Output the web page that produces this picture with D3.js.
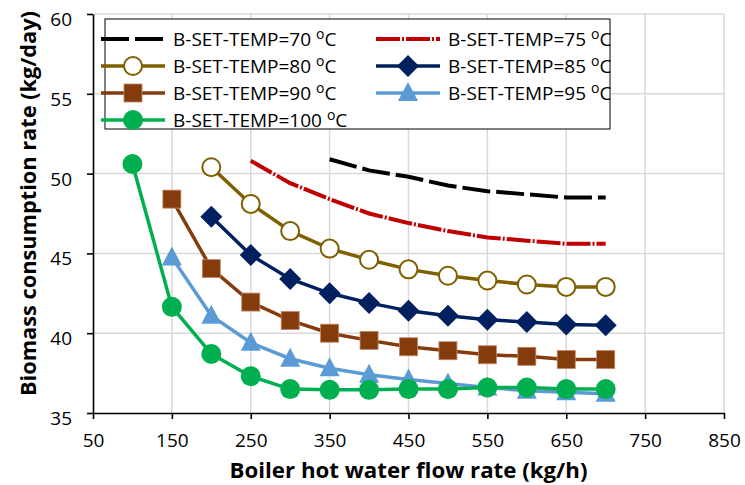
<!DOCTYPE html>
<html>
<head>
<meta charset="utf-8">
<script src="https://cdn.jsdelivr.net/npm/d3@7"></script>
<style>
  body { margin: 0; background: #fff; }
  svg { font-family: "Open Sans", Carlito, Calibri, sans-serif; }
</style>
</head>
<body>
<div id="chart"></div>
<script>
const MARGIN = { top: 14, right: 21, bottom: 72, left: 93 };
const WIDTH = 745 - MARGIN.left - MARGIN.right;
const HEIGHT = 485 - MARGIN.top - MARGIN.bottom;

// flow rates (kg/h)
const flowAll = [100, 150, 200, 250, 300, 350, 400, 450, 500, 550, 600, 650, 700];

// biomass consumption (kg/day) per boiler set temperature
const temp70 = [null, null, null, null, null, 50.9, 50.2, 49.8, 49.25, 48.9, 48.7, 48.5, 48.5];
const temp75 = [null, null, null, 50.8, 49.4, 48.4, 47.5, 46.9, 46.4, 46.0, 45.8, 45.6, 45.6];
const temp80 = [null, null, 50.4, 48.1, 46.4, 45.3, 44.6, 44.0, 43.6, 43.3, 43.05, 42.9, 42.9];
const temp85 = [null, null, 47.3, 44.9, 43.4, 42.5, 41.9, 41.4, 41.1, 40.85, 40.7, 40.55, 40.5];
const temp90 = [null, 48.4, 44.05, 41.95, 40.8, 40.0, 39.55, 39.15, 38.9, 38.65, 38.55, 38.35, 38.35];
const temp95 = [null, 44.75, 41.1, 39.4, 38.4, 37.8, 37.4, 37.1, 36.85, 36.6, 36.4, 36.3, 36.2];
const temp100 = [50.6, 41.65, 38.7, 37.3, 36.5, 36.45, 36.45, 36.5, 36.5, 36.6, 36.6, 36.5, 36.5];

const xTicks = [50, 150, 250, 350, 450, 550, 650, 750, 850];
const yTicks = [35, 40, 45, 50, 55, 60];

const series = [
  { name: '70', values: temp70, color: '#000000', dash: '28,6', marker: null },
  { name: '75', values: temp75, color: '#c00000', dash: '24,2,2,2', marker: null },
  { name: '80', values: temp80, color: '#7f6000', dash: null, marker: 'open' },
  { name: '85', values: temp85, color: '#002060', dash: null, marker: 'diamond' },
  { name: '90', values: temp90, color: '#843c0c', dash: null, marker: 'square' },
  { name: '95', values: temp95, color: '#5b9bd5', dash: null, marker: 'triangle' },
  { name: '100', values: temp100, color: '#00b050', dash: null, marker: 'circle' }
];

const svg = d3.select('#chart').append('svg')
  .attr('width', 745)
  .attr('height', 485);

const g = svg.append('g')
  .attr('transform', `translate(${MARGIN.left},${MARGIN.top})`);

const x = d3.scaleLinear().domain([50, 850]).range([0, WIDTH]);
const y = d3.scaleLinear().domain([35, 60]).range([HEIGHT, 0]);

// gridlines
g.append('g').selectAll('line')
  .data(xTicks.slice(1))
  .join('line')
    .attr('x1', d => x(d)).attr('x2', d => x(d))
    .attr('y1', 0).attr('y2', HEIGHT)
    .attr('stroke', '#d9d9d9').attr('stroke-width', 1.5);
g.append('g').selectAll('line')
  .data(yTicks.slice(1))
  .join('line')
    .attr('x1', 0).attr('x2', WIDTH)
    .attr('y1', d => y(d)).attr('y2', d => y(d))
    .attr('stroke', '#d9d9d9').attr('stroke-width', 1.5);

// axes
const xAxis = g.append('g')
  .attr('transform', `translate(0,${HEIGHT})`)
  .call(d3.axisBottom(x).tickValues(xTicks).tickSize(6).tickPadding(15).tickSizeOuter(0));
const yAxis = g.append('g')
  .call(d3.axisLeft(y).tickValues(yTicks).tickSize(6).tickPadding(15).tickSizeOuter(0));

[xAxis, yAxis].forEach(a => {
  a.select('.domain').attr('stroke', '#000').attr('stroke-width', 1.6);
  a.selectAll('.tick line').attr('stroke', '#000').attr('stroke-width', 1.6);
  a.selectAll('.tick text')
    .attr('fill', '#000')
    .style('font-size', '19px')
    .style('font-family', '"Open Sans", Carlito, Calibri, sans-serif');
});
yAxis.selectAll('.tick text').attr('dy', '0.6em');

// series lines
const line = d3.line()
  .defined(d => d[1] != null)
  .x(d => x(d[0]))
  .y(d => y(d[1]));

function drawMarker(sel, kind, color) {
  if (kind === 'circle') {
    sel.append('circle').attr('r', 10).attr('fill', color);
  } else if (kind === 'open') {
    sel.append('circle').attr('r', 9).attr('fill', '#fff')
      .attr('stroke', color).attr('stroke-width', 2);
  } else if (kind === 'square') {
    sel.append('rect').attr('x', -9).attr('y', -9).attr('width', 18).attr('height', 18)
      .attr('fill', color).attr('stroke', '#c0866a').attr('stroke-width', 0.8);
  } else if (kind === 'diamond') {
    sel.append('path').attr('d', 'M0,-11L11,0L0,11L-11,0Z').attr('fill', color);
  } else if (kind === 'triangle') {
    sel.append('path').attr('d', 'M0,-11L10,8L-10,8Z').attr('fill', color);
  }
}

series.forEach(s => {
  const pts = flowAll.map((f, i) => [f, s.values[i]]);
  g.append('path')
    .datum(pts)
    .attr('fill', 'none')
    .attr('stroke', s.color)
    .attr('stroke-width', s.marker ? 3.5 : 4)
    .attr('stroke-dasharray', s.dash)
    .attr('d', line);
  if (s.marker) {
    pts.filter(p => p[1] != null).forEach(p => {
      const m = g.append('g').attr('transform', `translate(${x(p[0])},${y(p[1])})`);
      drawMarker(m, s.marker, s.color);
    });
  }
});

// legend
const legend = svg.append('g');
legend.append('rect')
  .attr('x', 105).attr('y', 19).attr('width', 505).attr('height', 110)
  .attr('fill', '#fff').attr('stroke', '#000').attr('stroke-width', 1);

const legendPos = [
  [101, 39], [376, 39],
  [101, 66], [376, 66],
  [101, 93], [376, 93],
  [101, 120]
];

series.forEach((s, i) => {
  const [lx, ly] = legendPos[i];
  const item = legend.append('g').attr('transform', `translate(${lx},${ly})`);
  item.append('line')
    .attr('x1', 0).attr('x2', 64).attr('y1', 0).attr('y2', 0)
    .attr('stroke', s.color)
    .attr('stroke-width', s.marker ? 3.5 : 4)
    .attr('stroke-dasharray', s.dash);
  if (s.marker) {
    const m = item.append('g').attr('transform', 'translate(32,0)');
    drawMarker(m, s.marker, s.color);
  }
  const t = item.append('text')
    .attr('x', 72).attr('y', 7)
    .style('font-size', '19px')
    .attr('fill', '#000');
  t.append('tspan').text(`B-SET-TEMP=${s.name} `);
  t.append('tspan').attr('dy', -7).style('font-size', '14px').text('o');
  t.append('tspan').attr('dy', 7).text('C');
});

// axis titles
svg.append('text')
  .attr('x', MARGIN.left + WIDTH / 2)
  .attr('y', 478)
  .attr('text-anchor', 'middle')
  .attr('textLength', 358)
  .attr('lengthAdjust', 'spacingAndGlyphs')
  .style('font-size', '22px')
  .style('font-weight', 'bold')
  .text('Boiler hot water flow rate (kg/h)');

svg.append('text')
  .attr('transform', `translate(36,${MARGIN.top + HEIGHT / 2 - 10}) rotate(-90)`)
  .attr('text-anchor', 'middle')
  .attr('textLength', 385)
  .attr('lengthAdjust', 'spacingAndGlyphs')
  .style('font-size', '21px')
  .style('font-weight', 'bold')
  .text('Biomass consumption rate (kg/day)');
</script>
</body>
</html>
